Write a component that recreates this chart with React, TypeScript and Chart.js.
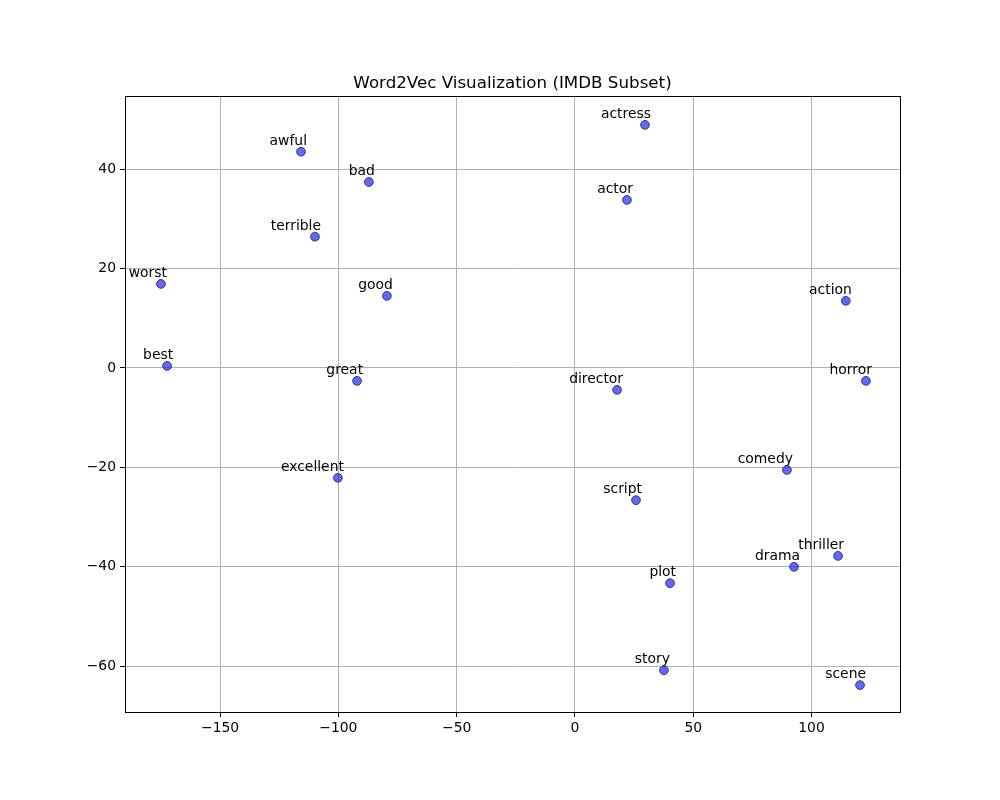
import React, { useEffect, useRef } from "react";
import { Chart, registerables } from "chart.js";

Chart.register(...registerables);

const words = ["actress", "awful", "bad", "actor", "terrible", "worst", "good", "action", "best", "great", "horror", "director", "comedy", "excellent", "script", "thriller", "drama", "plot", "story", "scene"];
const xValues = [29.6, -115.8, -87.1, 22.0, -109.9, -175.0, -79.5, 114.5, -172.4, -92.1, 123.0, 17.8, 89.6, -100.2, 25.8, 111.2, 92.6, 40.2, 37.6, 120.5];
const yValues = [48.9, 43.5, 37.4, 33.8, 26.4, 16.9, 14.5, 13.5, 0.4, -2.6, -2.6, -4.4, -20.5, -22.1, -26.6, -37.8, -40.0, -43.3, -60.8, -63.8];
const xTicks = [-150, -100, -50, 0, 50, 100];
const yTicks = [-60, -40, -20, 0, 20, 40];
const title = "Word2Vec Visualization (IMDB Subset)";

const FONT = "DejaVu Sans";
const fmt = (v: number) => (v < 0 ? "\u2212" + Math.abs(v) : String(v));

const overlay = {
  id: "overlay",
  afterDatasetsDraw(chart: any) {
    const { ctx, chartArea, scales } = chart;
    ctx.save();
    ctx.fillStyle = "#000";
    ctx.font = `13.9px "${FONT}"`;
    ctx.textAlign = "right";
    ctx.textBaseline = "alphabetic";
    words.forEach((w, i) => {
      const px = scales.x.getPixelForValue(xValues[i]);
      const py = scales.y.getPixelForValue(yValues[i]);
      ctx.fillText(w, px + 6, py - 7);
    });
    ctx.strokeStyle = "#000";
    ctx.lineWidth = 1;
    ctx.strokeRect(
      Math.round(chartArea.left) + 0.5,
      Math.round(chartArea.top) + 0.5,
      Math.round(chartArea.right - chartArea.left),
      Math.round(chartArea.bottom - chartArea.top)
    );
    ctx.font = `16.7px "${FONT}"`;
    ctx.textAlign = "center";
    ctx.textBaseline = "alphabetic";
    ctx.fillText(title, (chartArea.left + chartArea.right) / 2, chartArea.top - 8);
    ctx.restore();
  },
};

export default function App() {
  const ref = useRef<HTMLCanvasElement>(null);
  useEffect(() => {
    document.body.style.margin = "0";
    const c = ref.current!;
    const chart = new Chart(c, {
      type: "scatter",
      data: {
        datasets: [
          {
            data: xValues.map((x, i) => ({ x, y: yValues[i] })),
            backgroundColor: "rgba(40,40,220,0.7)",
            borderColor: "rgba(30,30,120,0.8)",
            borderWidth: 1,
            pointRadius: 4.4,
            pointHoverRadius: 4.4,
          },
        ],
      },
      options: {
        responsive: false,
        animation: false,
        layout: { padding: { left: 0, top: 96, right: 100, bottom: 0 } },
        plugins: { legend: { display: false }, title: { display: false }, tooltip: { enabled: false } },
        scales: {
          x: {
            type: "linear",
            min: -190.2,
            max: 137.4,
            afterFit: (s: any) => { s.height = 88; },
            afterBuildTicks: (s: any) => { s.ticks = xTicks.map((v) => ({ value: v })); },
            grid: { color: "#b0b0b0", lineWidth: 1, tickColor: "#000", tickLength: 5, drawTicks: true },
            border: { display: false },
            ticks: { color: "#000", font: { family: FONT, size: 13.9 }, padding: 3, callback: (v: any) => fmt(Number(v)), maxRotation: 0 },
          },
          y: {
            type: "linear",
            min: -69.2,
            max: 54.7,
            afterFit: (s: any) => { s.width = 125; },
            afterBuildTicks: (s: any) => { s.ticks = yTicks.map((v) => ({ value: v })); },
            grid: { color: "#b0b0b0", lineWidth: 1, tickColor: "#000", tickLength: 5, drawTicks: true },
            border: { display: false },
            ticks: { color: "#000", font: { family: FONT, size: 13.9 }, padding: 4, callback: (v: any) => fmt(Number(v)) },
          },
        },
      },
      plugins: [overlay],
    });
    return () => chart.destroy();
  }, []);
  return <canvas ref={ref} width={1000} height={800} style={{ display: "block" }} />;
}
